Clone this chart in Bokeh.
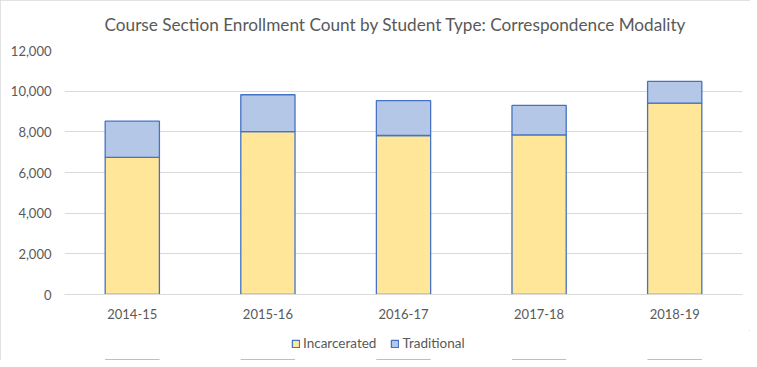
from bokeh.plotting import figure
from bokeh.layouts import column
from bokeh.models import Range1d, FixedTicker, NumeralTickFormatter, Legend, LegendItem
from bokeh.embed import file_html
from bokeh.resources import INLINE

years = ["2014-15", "2015-16", "2016-17", "2017-18", "2018-19"]
incarcerated = [6740, 8015, 7820, 7850, 9410]
traditional = [1785, 1810, 1710, 1450, 1070]
y_ticks = [0, 2000, 4000, 6000, 8000, 10000, 12000]
series = ["Incarcerated", "Traditional"]
colors = ["#FFE699", "#B4C7E7"]

FONT = "Lato"
GRAY = "#595959"
EDGE = "#4472C4"

data = dict(years=years, Incarcerated=incarcerated, Traditional=traditional)

p = figure(x_range=years, y_range=Range1d(0, 12000), frame_width=678, frame_height=244,
           output_backend="svg", toolbar_location=None,
           min_border_left=64, min_border_right=8, min_border_top=50, min_border_bottom=36)
p.x_range.range_padding = 0

rs = p.vbar_stack(series, x="years", width=0.4, source=data,
                  fill_color=colors, line_color=EDGE, line_width=1.3)

p.title.text = "Course Section Enrollment Count by Student Type: Correspondence  Modality"
p.title.align = "left"
p.title.offset = 40
p.title.vertical_align = "top"
p.title.text_font = FONT
p.title.text_font_size = "17.2px"
p.title.text_font_style = "normal"
p.title.text_color = GRAY
p.title.standoff = 27

p.outline_line_color = None
p.xgrid.grid_line_color = None
p.ygrid.grid_line_color = "#d9d9d9"
p.ygrid.grid_line_width = 1
p.yaxis.ticker = FixedTicker(ticks=y_ticks)
p.yaxis.formatter = NumeralTickFormatter(format="0,0")
p.yaxis.axis_line_color = None
p.yaxis.major_tick_line_color = None
p.yaxis.minor_tick_line_color = None
p.yaxis.major_label_standoff = 7
p.xaxis.axis_line_color = "#d9d9d9"
p.xaxis.major_tick_line_color = None
p.xaxis.major_label_standoff = 8
for ax in (p.xaxis, p.yaxis):
    ax.major_label_text_font = FONT
    ax.major_label_text_font_size = "13px"
    ax.major_label_text_color = GRAY

# legend strip below the chart (its bars lie far outside the strip's visible y window)
lg = figure(width=750, height=30, x_range=years, y_range=Range1d(20000, 20001),
            output_backend="svg", toolbar_location=None,
            x_axis_location=None, y_axis_location=None,
            min_border_left=0, min_border_right=0, min_border_top=0, min_border_bottom=0)
lg.xgrid.grid_line_color = None
lg.ygrid.grid_line_color = None
lg.outline_line_color = None
proxies = lg.vbar_stack(series, x="years", width=0.4, source=data,
                        fill_color=colors, line_color=EDGE, line_width=1.3)

legend = Legend(items=[LegendItem(label=s, renderers=[r]) for s, r in zip(series, proxies)],
                orientation="horizontal", location=(227, 9),
                glyph_width=9, glyph_height=9, label_standoff=3, spacing=14,
                label_text_font=FONT, label_text_font_size="13.5px", label_text_color=GRAY,
                border_line_color=None, padding=0, margin=0, background_fill_alpha=0)
lg.add_layout(legend, "center")

layout = column(p, lg, spacing=0,
                styles={"outline": "1px solid #d9d9d9", "outline-offset": "-1px"})

open("out.html", "w").write(file_html(layout, INLINE))
